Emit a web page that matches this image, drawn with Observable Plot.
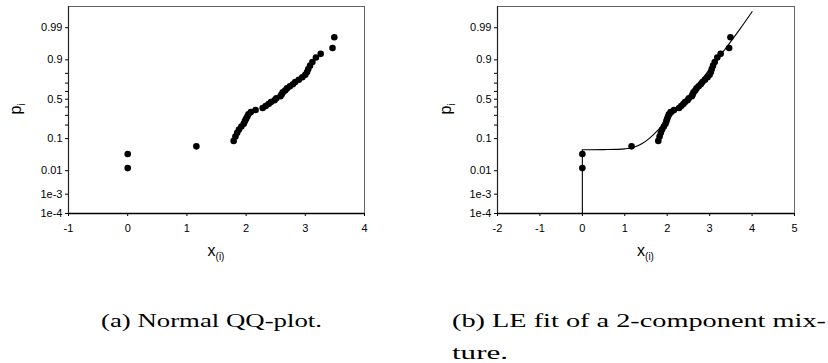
<!DOCTYPE html>
<html><head><meta charset="utf-8">
<script src="https://cdn.jsdelivr.net/npm/d3@7"></script>
<script src="https://cdn.jsdelivr.net/npm/@observablehq/plot@0.6"></script>
<style>
body{margin:0;background:#fff;}
#wrap{position:relative;width:828px;height:363px;overflow:hidden;background:#fff}
#left,#right{position:absolute;top:0}
#left{left:0}
#right{left:414px}
#cap{position:absolute;left:0;top:270px}
</style></head>
<body>
<div id="wrap"><div id="left"></div><div id="right"></div><svg id="cap" width="828" height="93"></svg></div>
<script>
// observed order statistics x_(i) and plotting positions p_i
const xObs = [0.00, 0.00, 1.16, 1.79, 1.82, 1.85, 1.88, 1.92, 1.96, 1.98, 2.00, 2.02, 2.04, 2.08, 2.16, 2.28, 2.33, 2.38, 2.42, 2.48, 2.51, 2.58, 2.60, 2.62, 2.66, 2.69, 2.74, 2.79, 2.83, 2.89, 2.95, 3.00, 3.03, 3.05, 3.08, 3.12, 3.18, 3.26, 3.46, 3.49];
const pObs = [0.0125, 0.0375, 0.0625, 0.0875, 0.1125, 0.1375, 0.1625, 0.1875, 0.2125, 0.2375, 0.2625, 0.2875, 0.3125, 0.3375, 0.3625, 0.3875, 0.4125, 0.4375, 0.4625, 0.4875, 0.5125, 0.5375, 0.5625, 0.5875, 0.6125, 0.6375, 0.6625, 0.6875, 0.7125, 0.7375, 0.7625, 0.7875, 0.8125, 0.8375, 0.8625, 0.8875, 0.9125, 0.93, 0.952, 0.978];
// fitted mixture CDF
const xStep = [0, 0];
const pStep = [1e-4, 0.050];
const xFit = [0, 0.5, 1.0, 1.2, 1.4, 1.6, 1.8, 2.0, 2.2, 2.5, 2.8, 3.1, 3.4, 3.7, 4.0];
const pFit = [0.050, 0.0505, 0.0532, 0.058, 0.0735, 0.106, 0.164, 0.248, 0.345, 0.540, 0.732, 0.877, 0.955, 0.988, 0.9978];
// axis ticks
const majorP = [1e-4, 1e-3, 0.01, 0.1, 0.5, 0.9, 0.99];
const majorLabels = ["1e-4", "1e-3", "0.01", "0.1", "0.5", "0.9", "0.99"];
const minorP = [0.2, 0.3, 0.4, 0.6, 0.7, 0.8];
const xTicksA = [-1, 0, 1, 2, 3, 4];
const xTicksB = [-2, -1, 0, 1, 2, 3, 4, 5];
const captions = ["(a) Normal QQ-plot.", "(b) LE fit of a 2-component mix-", "ture."];

function probit(p){
  const a=[-3.969683028665376e+01,2.209460984245205e+02,-2.759285104469687e+02,1.383577518672690e+02,-3.066479806614716e+01,2.506628277459239e+00];
  const b=[-5.447609879822406e+01,1.615858368580409e+02,-1.556989798598866e+02,6.680131188771972e+01,-1.328068155288572e+01];
  const c=[-7.784894002430293e-03,-3.223964580411365e-01,-2.400758277161838e+00,-2.549671324505035e+00,4.374664141464968e+00,2.938163982698783e+00];
  const d=[7.784695709041462e-03,3.224671290700398e-01,2.445134137142996e+00,3.754408661907416e+00];
  const pl=0.02425, ph=1-pl; let q,r;
  if(p<pl){q=Math.sqrt(-2*Math.log(p));return (((((c[0]*q+c[1])*q+c[2])*q+c[3])*q+c[4])*q+c[5])/((((d[0]*q+d[1])*q+d[2])*q+d[3])*q+1);}
  if(p<=ph){q=p-0.5;r=q*q;return (((((a[0]*r+a[1])*r+a[2])*r+a[3])*r+a[4])*r+a[5])*q/(((((b[0]*r+b[1])*r+b[2])*r+b[3])*r+b[4])*r+1);}
  q=Math.sqrt(-2*Math.log(1-p));return -(((((c[0]*q+c[1])*q+c[2])*q+c[3])*q+c[4])*q+c[5])/((((d[0]*q+d[1])*q+d[2])*q+d[3])*q+1);
}

const obs = xObs.map((x,i)=>({x, y: probit(pObs[i])}));
const stepData = xStep.map((x,i)=>({x, y: probit(pStep[i])}));
const fitData = xFit.map((x,i)=>({x, y: probit(pFit[i])}));
const majorY = majorP.map(probit);
const labelOf = new Map(majorY.map((v,i)=>[v, majorLabels[i]]));
const minorY = minorP.map(probit);
const yMin = probit(1e-4);
const yDomain = [yMin, 3.017];
const FONT = "Liberation Sans, Arial, Helvetica, sans-serif";

function panel({xDomain, xTicks, marginLeft, marginRight, fit, ylabX}){
  const marks = [
    Plot.frame({stroke:"#666", strokeWidth:1}),
    Plot.axisY(minorY, {tickSize:3, tickFormat:()=>"", label:null, anchor:"left"}),
    Plot.axisY(majorY, {tickSize:3, tickPadding:3, tickFormat:d=>labelOf.get(d), label:null, anchor:"left", fontSize:11}),
    Plot.axisX(xTicks, {tickSize:3, tickPadding:8, tickFormat:d=>String(d), label:null, anchor:"bottom", fontSize:11}),
    Plot.ruleY([yMin], {stroke:"#000", strokeWidth:1.6}),
    Plot.ruleX([xDomain[0]], {stroke:"#222", strokeWidth:1.2})
  ];
  if(fit){
    marks.push(Plot.line(stepData, {x:"x", y:"y", stroke:"#000", strokeWidth:1.1}));
    marks.push(Plot.line(fitData, {x:"x", y:"y", stroke:"#000", strokeWidth:1.1, curve:"catmull-rom"}));
  }
  marks.push(Plot.dot(obs, {x:"x", y:"y", r:3.3, fill:"#000", stroke:null}));
  const svg = Plot.plot({
    width:414, height:270, marginTop:6, marginBottom:57, marginLeft, marginRight,
    style:{fontFamily:FONT, fontSize:"11px", color:"#000", background:"#fff"},
    x:{domain:xDomain},
    y:{domain:yDomain},
    marks
  });
  const s = d3.select(svg);
  const cx = (marginLeft + 414 - marginRight)/2;
  const xl = s.append("text").attr("x", cx).attr("y", 256).attr("text-anchor","middle")
    .attr("font-family", FONT).attr("font-size", 16).attr("fill","#000");
  xl.append("tspan").text("x");
  xl.append("tspan").attr("font-size", 10).attr("dy", 4).text("(i)");
  const yl = s.append("text").attr("transform", `translate(${ylabX},109) rotate(-90)`).attr("text-anchor","middle")
    .attr("font-family", FONT).attr("font-size", 16).attr("fill","#000");
  yl.append("tspan").text("p");
  yl.append("tspan").attr("font-size", 10).attr("dy", 4).text("i");
  return svg;
}

document.getElementById("left").appendChild(panel({xDomain:[-1,4], xTicks:xTicksA, marginLeft:68, marginRight:50, fit:false, ylabX:21}));
document.getElementById("right").appendChild(panel({xDomain:[-2,5], xTicks:xTicksB, marginLeft:83, marginRight:34, fit:true, ylabX:37}));

const cap = d3.select("#cap");
function capText(x, y, w, s){
  cap.append("text").attr("x", x).attr("y", y).attr("textLength", w).attr("lengthAdjust","spacingAndGlyphs")
    .attr("font-family","Liberation Serif, 'DejaVu Serif', serif").attr("font-size", 19).attr("fill","#000").text(s);
}
capText(101, 57, 221, captions[0]);
capText(452, 57, 374, captions[1]);
capText(452, 89, 56, captions[2]);
</script>
</body></html>
